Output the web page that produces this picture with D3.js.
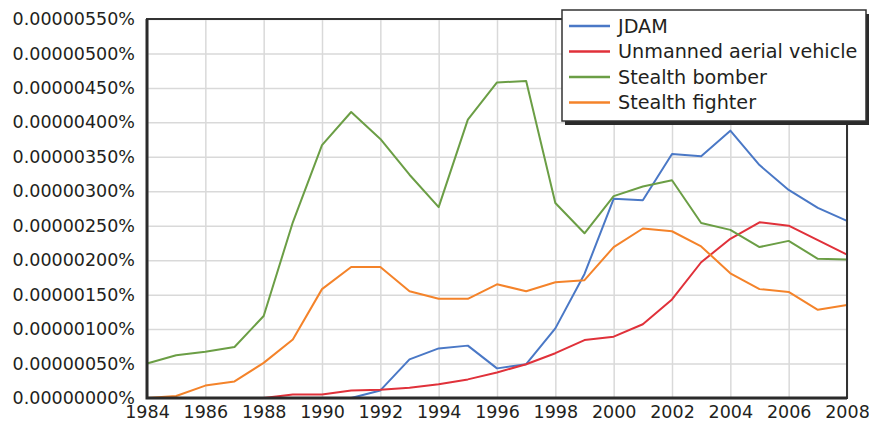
<!DOCTYPE html>
<meta charset="utf-8">
<script src="https://d3js.org/d3.v7.min.js"></script>
<style>
  body { margin: 0; background: #fff; }
  text { font-family: "DejaVu Sans", sans-serif; fill: #231f20; }
</style>
<div id="chart"></div>
<script>

// values are in units of 0.00000001 %
var UNIT = 1e-8;

var years = d3.range(1984, 2009);

var jdam = [0, 0, 0, 0, 0, 0, 0, 0, 11, 56, 72, 76, 43, 49, 101, 180, 289, 287, 354, 351, 388, 338, 302, 276, 257];
var uav = [0, 0, 0, 0, 0, 5, 5, 11, 12, 15, 20, 27, 37, 49, 65, 84, 89, 107, 143, 197, 231, 255, 250, 229, 208];
var bomber = [50, 62, 67, 74, 119, 255, 367, 415, 376, 324, 277, 404, 458, 460, 283, 239, 293, 307, 316, 254, 244, 219, 228, 202, 201];
var fighter = [0, 3, 18, 24, 51, 85, 158, 190, 190, 155, 144, 144, 165, 155, 168, 171, 219, 246, 242, 220, 181, 158, 154, 128, 135];

var seriesNames = ["JDAM", "Unmanned aerial vehicle", "Stealth bomber", "Stealth fighter"];
var seriesColors = ["#4a78c6", "#e0313a", "#6b9e45", "#f4832a"];
var seriesValues = [jdam, uav, bomber, fighter];

var yTicks = d3.range(0, 551, 50);
var xTicks = d3.range(1984, 2009, 2);

var W = 869, H = 428;
var margin = {top: 19, right: 22, bottom: 30, left: 147};
var width = W - margin.left - margin.right,
    height = H - margin.top - margin.bottom;

var svg = d3.select("#chart").append("svg")
    .attr("width", W)
    .attr("height", H);

var g = svg.append("g")
    .attr("transform", "translate(" + margin.left + "," + margin.top + ")");

var x = d3.scaleLinear().domain([1984, 2008]).range([0, width]);
var y = d3.scaleLinear().domain([0, 550]).range([height, 0]);

// grid
g.append("g")
  .call(d3.axisLeft(y).tickValues(yTicks).tickSize(-width).tickFormat(""))
  .call(function(a) { a.select(".domain").remove(); })
  .selectAll("line").attr("stroke", "#d9d9d9").attr("stroke-width", 1.5);

g.append("g")
  .attr("transform", "translate(0," + height + ")")
  .call(d3.axisBottom(x).tickValues(xTicks).tickSize(-height).tickFormat(""))
  .call(function(a) { a.select(".domain").remove(); })
  .selectAll("line").attr("stroke", "#d9d9d9").attr("stroke-width", 1.5);

// tick labels
var yAxis = g.append("g")
  .call(d3.axisLeft(y).tickValues(yTicks).tickSize(0).tickPadding(12)
    .tickFormat(function(d) { return d3.format(".8f")(d * UNIT) + "%"; }));
yAxis.select(".domain").remove();
yAxis.selectAll("text").style("font-size", "17.5px").attr("font-family", null);

var xAxis = g.append("g")
  .attr("transform", "translate(0," + height + ")")
  .call(d3.axisBottom(x).tickValues(xTicks).tickSize(0).tickPadding(8).tickFormat(d3.format("d")));
xAxis.select(".domain").remove();
xAxis.selectAll("text").style("font-size", "17.5px").attr("font-family", null);

// lines
var line = d3.line()
  .x(function(d, i) { return x(years[i]); })
  .y(function(d) { return y(d); });

g.selectAll(".series")
  .data(seriesValues)
  .enter()
  .append("path")
    .attr("fill", "none")
    .attr("stroke", function(d, i) { return seriesColors[i]; })
    .attr("stroke-width", 2)
    .attr("stroke-linejoin", "round")
    .attr("d", line);

// frame
g.append("rect")
  .attr("width", width).attr("height", height)
  .attr("fill", "none").attr("stroke", "#333").attr("stroke-width", 2);
g.append("path")
  .attr("d", "M0,0V" + height + "H" + width)
  .attr("fill", "none").attr("stroke", "#2b2b2b").attr("stroke-width", 3);

// legend
var lg = svg.append("g").attr("transform", "translate(562,10)");
var lw = 304, lh = 111;
lg.append("rect").attr("x", 3).attr("y", 4).attr("width", lw).attr("height", lh).attr("fill", "#2b2b2b");
lg.append("rect").attr("width", lw).attr("height", lh)
  .attr("fill", "#fff").attr("stroke", "#333").attr("stroke-width", 1.5);

var items = lg.selectAll(".item")
  .data(seriesNames)
  .enter()
  .append("g")
    .attr("transform", function(d, i) { return "translate(0," + (16 + i * 25.5) + ")"; });
items.append("line")
  .attr("x1", 7).attr("x2", 48)
  .attr("stroke", function(d, i) { return seriesColors[i]; })
  .attr("stroke-width", 2.5);
items.append("text")
  .attr("x", 56).attr("dy", "0.35em")
  .style("font-size", "19.2px")
  .text(function(d) { return d; });

</script>
